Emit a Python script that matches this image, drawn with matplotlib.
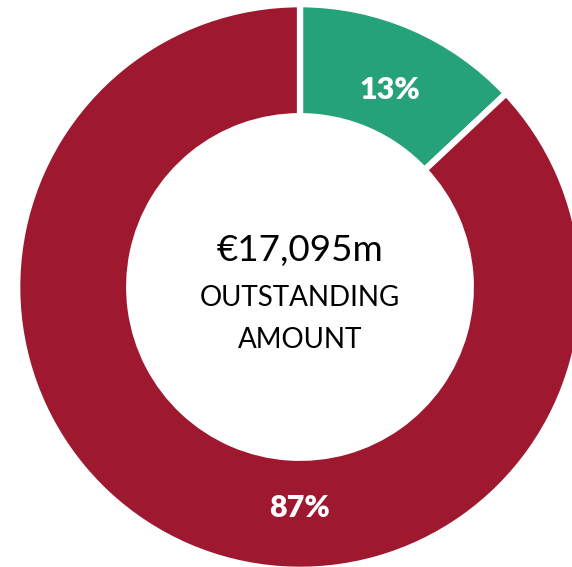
import matplotlib
matplotlib.use("Agg")
import matplotlib.pyplot as plt

# Data
labels = ["Green share", "Red share"]
shares = [13, 87]
pct_labels = ["13%", "87%"]
colors = ["#26A27A", "#9E1830"]
total_text = "€17,095m"
caption_lines = ["OUTSTANDING", "AMOUNT"]

W, H = 572, 567
cx, cy, R = 300, 287, 280  # pixel center / radius of the ring

fig = plt.figure(figsize=(W / 100, H / 100), dpi=100)
ax = fig.add_axes([0, 0, 1, 1])

wedges, _ = ax.pie(
    shares,
    colors=colors,
    startangle=90,
    counterclock=False,
    radius=1.01,
    wedgeprops=dict(width=0.40, edgecolor="white", linewidth=4.5),
)

# map figure pixels to data units so that radius 1 == R px
ax.set_xlim(-cx / R, (W - cx) / R)
ax.set_ylim(-(H - cy) / R, cy / R)
ax.set_aspect("auto")
ax.axis("off")

font = ["Lato", "DejaVu Sans"]

ax.text(0.32, 0.705, pct_labels[0], ha="center", va="center",
        color="white", fontsize=22, fontweight="heavy", family=font)
ax.text(0.0, -0.79, pct_labels[1], ha="center", va="center",
        color="white", fontsize=22, fontweight="heavy", family=font)

ax.text(0.0, 0.13, total_text, ha="center", va="center",
        color="black", fontsize=26.5, fontweight="normal", family=font)
ax.text(0.0, -0.038, caption_lines[0], ha="center", va="center",
        color="black", fontsize=20, fontweight="normal", family=font)
ax.text(0.0, -0.19, caption_lines[1], ha="center", va="center",
        color="black", fontsize=20, fontweight="normal", family=font)

fig.savefig("out.png", dpi=100)
